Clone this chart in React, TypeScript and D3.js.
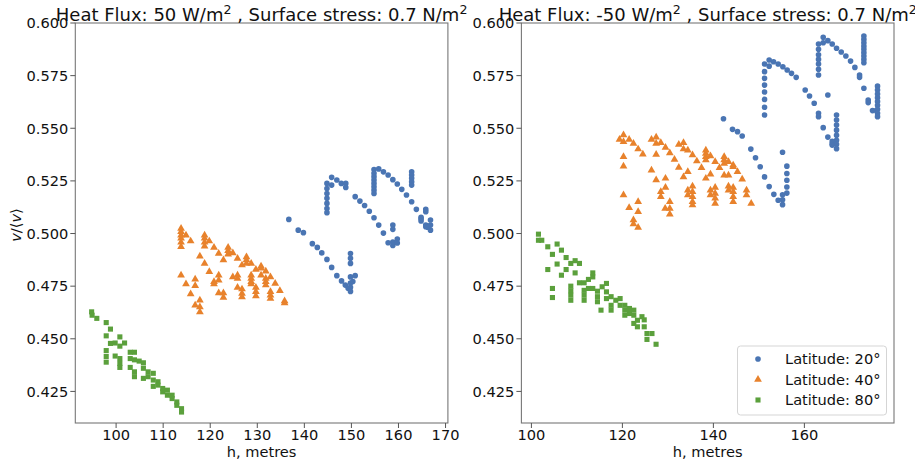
import React, { useEffect, useRef } from 'react';
import * as d3 from 'd3';

// h (metres), v/<v> pairs
const leftLat20: [number, number][] = [
  [136.7, 0.5067], [138.7, 0.5016], [139.8, 0.5004], [141.7, 0.4952], [142.75, 0.4934], [143.7, 0.4908],
  [144.8, 0.4877], [145.8, 0.4839], [146.9, 0.48], [147.9, 0.4775], [148.7, 0.4755], [149.3, 0.474],
  [149.8, 0.4725], [149.8, 0.4745], [149.8, 0.4765], [150.3, 0.4772], [149.8, 0.4794], [150.8, 0.48],
  [149.8, 0.4858], [149.8, 0.4882], [149.8, 0.4905],
  [144.8, 0.5238], [144.8, 0.5214], [144.8, 0.519], [144.8, 0.5167], [144.8, 0.5143], [144.8, 0.5119], [144.8, 0.5099],
  [145.8, 0.5267], [145.8, 0.523], [146.9, 0.5254], [147.85, 0.5238], [148.8, 0.5238], [148.8, 0.5219],
  [150.8, 0.5175], [151.8, 0.5154], [152.8, 0.5133], [153.8, 0.5106], [154.8, 0.5075], [155.8, 0.504],
  [156.8, 0.5002], [157.8, 0.4956], [158.8, 0.4943], [159.75, 0.4974], [158.8, 0.496], [159.75, 0.4955],
  [158.8, 0.504], [158.8, 0.502],
  [154.8, 0.5304], [154.8, 0.5286], [154.8, 0.527], [154.8, 0.5254], [154.8, 0.5238], [154.8, 0.5222], [154.8, 0.5206], [154.8, 0.519],
  [155.8, 0.5307], [156.8, 0.5293], [157.8, 0.5278], [158.8, 0.5256], [159.75, 0.5235], [160.7, 0.521],
  [161.7, 0.5183], [162.8, 0.5151], [163.8, 0.5115], [164.8, 0.5077], [165.8, 0.504], [166.8, 0.5016],
  [162.8, 0.5293], [162.8, 0.5278], [162.8, 0.5262], [162.8, 0.5246], [162.8, 0.523],
  [165.8, 0.5115], [165.8, 0.5104], [164.8, 0.507], [164.8, 0.506], [165.8, 0.5032], [166.8, 0.5064], [166.8, 0.504], [166.2, 0.503],
];

const leftLat40: [number, number][] = [
  [113.8, 0.5024], [113.8, 0.5008], [113.8, 0.4992], [113.8, 0.4977], [113.8, 0.4958], [113.8, 0.4937],
  [114.85, 0.4992], [115.84, 0.4964],
  [118.8, 0.4992], [118.8, 0.4977], [118.8, 0.4958], [118.8, 0.494], [119.8, 0.4964],
  [120.8, 0.4934], [121.8, 0.4905], [122.8, 0.4874],
  [123.8, 0.4934], [123.8, 0.4918], [123.8, 0.4902], [124.8, 0.4908], [125.8, 0.4881], [126.75, 0.485],
  [127.7, 0.4889], [127.7, 0.4874], [127.7, 0.4858], [128.7, 0.4858], [129.7, 0.4829],
  [130.8, 0.4845], [130.8, 0.4835], [131.8, 0.4821], [132.8, 0.4794], [133.8, 0.4763], [134.8, 0.4728],
  [135.8, 0.468], [135.8, 0.467],
  [117.8, 0.4892], [118.8, 0.4858], [119.8, 0.4818], [121.8, 0.4802], [121.8, 0.4778], [120.8, 0.4771], [120.8, 0.476],
  [113.8, 0.4802], [114.85, 0.476], [115.84, 0.4713], [116.8, 0.4783], [116.8, 0.4752],
  [116.8, 0.4659], [117.8, 0.4683], [117.8, 0.4651], [117.8, 0.4627],
  [121.8, 0.4718], [122.8, 0.4718], [122.8, 0.4696],
  [124.8, 0.4794], [125.8, 0.4802], [125.8, 0.4786],
  [125.8, 0.4744], [126.75, 0.4736], [126.75, 0.4715], [126.75, 0.4699],
  [128.7, 0.4802], [128.7, 0.4786], [128.7, 0.4771], [128.7, 0.476],
  [129.7, 0.4744], [129.7, 0.4723], [129.7, 0.4703], [130.8, 0.4802],
  [131.8, 0.4786], [131.8, 0.4771], [131.8, 0.4755],
  [132.8, 0.4723], [132.8, 0.4707], [132.8, 0.4691],
];

const leftLat80: [number, number][] = [
  [94.8, 0.4628], [94.9, 0.4612], [95.9, 0.4597], [97.9, 0.4577], [98.8, 0.4546], [97.9, 0.4514],
  [100.8, 0.4509], [98.8, 0.4478], [99.8, 0.448], [100.8, 0.4465], [101.8, 0.448],
  [97.9, 0.4444], [97.9, 0.4416], [97.9, 0.4389], [103.0, 0.4436], [103.9, 0.4436],
  [99.8, 0.4418], [100.8, 0.4406], [100.8, 0.4383], [100.8, 0.4364],
  [103.0, 0.4406], [103.9, 0.44], [104.9, 0.4394], [105.8, 0.4386],
  [103.0, 0.4364], [103.9, 0.4343], [103.9, 0.432], [105.8, 0.436], [106.8, 0.4343], [107.9, 0.4336],
  [105.8, 0.4312], [106.8, 0.432], [107.9, 0.4304], [108.9, 0.4296], [107.9, 0.4274], [108.9, 0.428],
  [109.9, 0.4264], [109.9, 0.4248], [110.9, 0.4256], [110.9, 0.4232], [111.9, 0.4232], [111.9, 0.4216],
  [112.9, 0.42], [112.9, 0.4184], [113.9, 0.4168], [113.9, 0.4152],
];

const rightLat20: [number, number][] = [
  [142.22, 0.5545], [144.2, 0.5495], [145.3, 0.5484], [146.33, 0.5463], [148.23, 0.5401], [149.26, 0.536],
  [150.29, 0.5317], [151.24, 0.5269], [152.26, 0.5223], [153.29, 0.5186], [154.24, 0.5158], [155.2, 0.5137],
  [155.2, 0.516], [155.2, 0.5184], [155.2, 0.5386],
  [156.15, 0.532], [156.15, 0.5285], [156.15, 0.5253], [156.15, 0.5221], [156.15, 0.5192],
  [151.24, 0.5805], [151.24, 0.5769], [151.24, 0.5737], [151.24, 0.5705], [151.24, 0.5672], [151.24, 0.5637], [151.24, 0.56], [151.24, 0.5563],
  [152.26, 0.5824], [152.26, 0.5795], [153.22, 0.5816], [154.24, 0.5805], [155.27, 0.5792], [156.22, 0.5777],
  [157.17, 0.5761], [158.2, 0.5742],
  [160.18, 0.5682], [161.13, 0.5653], [162.16, 0.5619], [164.14, 0.5503], [165.16, 0.5458], [166.12, 0.5427],
  [165.16, 0.5658], [163.11, 0.5571], [163.11, 0.5555],
  [167.07, 0.5563], [167.07, 0.5539], [167.07, 0.5515], [167.07, 0.5491], [167.07, 0.5467], [167.07, 0.5443], [167.07, 0.5424], [167.07, 0.5403],
  [166.12, 0.5438], [166.12, 0.542],
  [163.11, 0.59], [163.11, 0.5875], [163.11, 0.5849], [163.11, 0.5827], [163.11, 0.5805], [163.11, 0.578], [163.11, 0.5753],
  [164.14, 0.5932], [164.14, 0.5906], [165.16, 0.5916], [166.12, 0.59], [167.07, 0.588], [168.1, 0.5862],
  [169.12, 0.5843], [170.15, 0.5819], [171.1, 0.5789], [172.13, 0.5753], [172.13, 0.5742], [173.08, 0.569],
  [174.03, 0.5634], [174.03, 0.5622],
  [173.08, 0.5938], [173.08, 0.5922], [173.08, 0.5906], [173.08, 0.589], [173.08, 0.5875], [173.08, 0.5859], [173.08, 0.5843], [173.08, 0.5827], [173.08, 0.5811],
  [174.98, 0.5584], [175.8, 0.5584],
  [176.08, 0.57], [176.08, 0.5682], [176.08, 0.5663], [176.08, 0.5645], [176.08, 0.5627], [176.08, 0.5609], [176.08, 0.559], [176.08, 0.5571], [176.08, 0.5555],
];

const rightLat40: [number, number][] = [
  [120.24, 0.5468], [119.36, 0.5447], [121.48, 0.5447], [120.24, 0.5436], [122.43, 0.5428], [123.46, 0.5401], [124.49, 0.5377],
  [120.24, 0.5365], [120.24, 0.532],
  [126.39, 0.5447], [127.42, 0.5457], [127.42, 0.5428], [128.44, 0.5431], [129.47, 0.5409], [130.42, 0.5383],
  [131.45, 0.5352], [132.4, 0.5314], [134.38, 0.5293],
  [132.4, 0.5423], [133.43, 0.5431], [133.43, 0.5401], [134.38, 0.5396], [135.41, 0.5373], [136.36, 0.5344],
  [137.39, 0.5312], [139.36, 0.5282], [138.34, 0.5262],
  [138.34, 0.5396], [138.34, 0.538], [138.34, 0.5365], [138.34, 0.5349], [139.36, 0.5368], [140.39, 0.5341],
  [141.34, 0.5312], [142.37, 0.5277], [143.32, 0.5277], [146.33, 0.5258],
  [142.37, 0.5365], [142.37, 0.5349], [142.37, 0.5333], [143.32, 0.5341], [144.35, 0.5325], [145.3, 0.5293], [144.35, 0.5317],
  [126.39, 0.5301], [127.42, 0.5254], [129.47, 0.5262], [129.47, 0.5219], [127.42, 0.5375], [133.43, 0.5269],
  [120.24, 0.5183], [121.48, 0.5122], [123.46, 0.5151], [123.46, 0.5103], [122.43, 0.5064], [122.43, 0.5045], [123.46, 0.5029],
  [129.4, 0.5119], [130.42, 0.5151], [130.42, 0.5119], [130.42, 0.5092], [128.44, 0.5198], [128.44, 0.5175],
  [134.38, 0.5206], [134.38, 0.5183], [135.41, 0.5225], [135.41, 0.5198], [135.41, 0.5175], [135.41, 0.5151], [135.41, 0.5135],
  [139.36, 0.5206], [139.36, 0.5183], [140.39, 0.5219], [140.39, 0.519], [140.39, 0.5167], [140.39, 0.5143],
  [143.32, 0.5225], [143.32, 0.5206], [144.35, 0.5219], [144.35, 0.5198], [144.35, 0.5175], [144.35, 0.5151],
  [147.28, 0.5206], [147.28, 0.5183], [148.31, 0.5143],
];

const rightLat80: [number, number][] = [
  [101.55, 0.4997], [101.55, 0.4968], [102.28, 0.4968], [103.6, 0.4937], [105.65, 0.495], [104.62, 0.4901],
  [106.6, 0.4921], [107.63, 0.4886], [105.65, 0.4855], [103.6, 0.4829], [104.62, 0.4739], [104.62, 0.4696],
  [106.6, 0.4802], [107.63, 0.4829], [108.66, 0.4858], [109.61, 0.4871], [110.56, 0.4858], [109.61, 0.4813],
  [108.66, 0.475], [108.66, 0.4728], [108.66, 0.4707], [108.66, 0.4683],
  [110.56, 0.4766], [111.59, 0.4766], [112.54, 0.4782], [113.49, 0.4794], [113.49, 0.4813],
  [111.59, 0.473], [111.59, 0.4707], [111.59, 0.4683],
  [112.54, 0.4739], [113.49, 0.4739], [114.52, 0.4726], [115.55, 0.4747], [116.5, 0.4763],
  [114.52, 0.47], [114.52, 0.4676], [115.3, 0.4636],
  [116.5, 0.4723], [117.52, 0.47], [118.55, 0.4683], [119.5, 0.4691], [119.5, 0.4659],
  [116.5, 0.4691], [117.52, 0.4659], [117.52, 0.4636],
  [120.53, 0.4659], [120.53, 0.4636], [120.53, 0.4612], [121.55, 0.4644], [121.55, 0.462],
  [122.51, 0.4636], [122.51, 0.4612], [122.51, 0.4573], [123.31, 0.4588], [123.3, 0.4557],
  [124.3, 0.4605], [124.8, 0.459], [124.8, 0.4557], [125.4, 0.4525], [125.4, 0.4497], [126.5, 0.4525], [127.4, 0.4474],
];

const leftXTicks = [100, 110, 120, 130, 140, 150, 160, 170];
const rightXTicks = [100, 120, 140, 160];
const yTicks = [0.425, 0.45, 0.475, 0.5, 0.525, 0.55, 0.575, 0.6];
const latLabels = ['Latitude: 20°', 'Latitude: 40°', 'Latitude: 80°'];
const heatFlux = ['50', '-50'];

const colors = ['#4a75b3', '#e8822c', '#5ba03c'];
const symbols = [d3.symbolCircle, d3.symbolTriangle, d3.symbolSquare];
const symbolSizes = [25, 26, 26];

function App() {
  const ref = useRef<SVGSVGElement>(null);

  useEffect(() => {
    const svg = d3.select(ref.current);
    svg.selectAll('*').remove();

    const font = 'DejaVu Sans';
    const y = d3.scaleLinear().domain([0.41, 0.6]).range([423, 23]);

    const panels = [
      { flux: heatFlux[0], xDomain: [91.33, 170.5], xRange: [75.3, 447.9], ticks: leftXTicks, series: [leftLat20, leftLat40, leftLat80], legend: false },
      { flux: heatFlux[1], xDomain: [97.8, 179.7], xRange: [521.4, 894], ticks: rightXTicks, series: [rightLat20, rightLat40, rightLat80], legend: true },
    ];

    panels.forEach(p => {
      const x = d3.scaleLinear().domain(p.xDomain).range(p.xRange);
      const [x0, x1] = p.xRange;
      const g = svg.append('g');

      // points
      p.series.forEach((data, i) => {
        g.append('g')
          .selectAll('path')
          .data(data)
          .join('path')
          .attr('transform', d => `translate(${x(d[0])},${y(d[1])})`)
          .attr('d', d3.symbol().type(symbols[i]).size(symbolSizes[i])())
          .attr('fill', colors[i]);
      });

      // frame
      g.append('rect')
        .attr('x', x0).attr('y', 23)
        .attr('width', x1 - x0).attr('height', 400)
        .attr('fill', 'none').attr('stroke', '#777').attr('stroke-width', 1.1);

      // x ticks
      const xt = g.append('g').selectAll('g').data(p.ticks).join('g')
        .attr('transform', d => `translate(${x(d)},0)`);
      xt.append('line').attr('y1', 423).attr('y2', 428).attr('stroke', '#555');
      xt.append('text').attr('y', 440).attr('text-anchor', 'middle')
        .attr('font-family', font).attr('font-size', 14.6).attr('fill', '#111')
        .text(d => d);

      // y ticks
      const yt = g.append('g').selectAll('g').data(yTicks).join('g')
        .attr('transform', d => `translate(0,${y(d)})`);
      yt.append('line').attr('x1', x0 - 5).attr('x2', x0).attr('stroke', '#555');
      yt.append('text').attr('x', x0 - 7).attr('dy', '0.36em').attr('text-anchor', 'end')
        .attr('font-family', font).attr('font-size', 14.6).attr('fill', '#111')
        .text(d => d3.format('.3f')(d));

      // x label
      g.append('text').attr('x', (x0 + x1) / 2).attr('y', 457).attr('text-anchor', 'middle')
        .attr('font-family', font).attr('font-size', 14.6).attr('fill', '#111')
        .text('h, metres');

      // title
      const t = g.append('text').attr('x', (x0 + x1) / 2).attr('y', 20.5).attr('text-anchor', 'middle')
        .attr('font-family', font).attr('font-size', 18).attr('fill', '#111');
      t.append('tspan').text(`Heat Flux: ${p.flux} W/m`);
      t.append('tspan').attr('dy', -7).attr('font-size', 12.6).text('2');
      t.append('tspan').attr('dy', 7).text(' , Surface stress: 0.7 N/m');
      t.append('tspan').attr('dy', -7).attr('font-size', 12.6).text('2');

      if (p.legend) {
        const lg = g.append('g');
        lg.append('rect').attr('x', 737.5).attr('y', 346).attr('width', 149).attr('height', 69)
          .attr('rx', 3).attr('fill', 'white').attr('fill-opacity', 0.8)
          .attr('stroke', '#d5d5d5');
        latLabels.forEach((lab, i) => {
          const cy = 359 + i * 20.5;
          lg.append('path')
            .attr('transform', `translate(758,${cy})`)
            .attr('d', d3.symbol().type(symbols[i]).size(symbolSizes[i])())
            .attr('fill', colors[i]);
          lg.append('text').attr('x', 785).attr('y', cy).attr('dy', '0.36em')
            .attr('font-family', font).attr('font-size', 14.6).attr('fill', '#111')
            .text(lab);
        });
      }
    });

    // y label v/<v>
    const yl = svg.append('text')
      .attr('transform', 'translate(21,225) rotate(-90)')
      .attr('text-anchor', 'middle')
      .attr('font-family', font).attr('font-size', 14.6).attr('fill', '#111');
    yl.append('tspan').attr('font-style', 'italic').text('v');
    yl.append('tspan').text('/⟨');
    yl.append('tspan').attr('font-style', 'italic').text('v');
    yl.append('tspan').text('⟩');
  }, []);

  return (
    <svg ref={ref} width={915} height={465}
      style={{ position: 'absolute', left: 0, top: 0, background: 'white' }} />
  );
}

export default App;
